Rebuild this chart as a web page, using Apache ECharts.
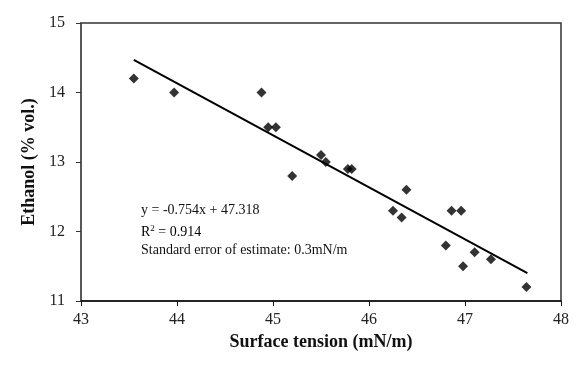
<!DOCTYPE html>
<html><head><meta charset="utf-8">
<script src="https://cdn.jsdelivr.net/npm/echarts@6/dist/echarts.min.js"></script>
<style>html,body{margin:0;padding:0;background:#fff}#c{width:579px;height:365px}</style>
</head><body><div id="c"></div>
<script>
var surfaceTension = [43.55, 43.97, 44.88, 44.95, 45.03, 45.2, 45.5, 45.55, 45.78, 45.82, 46.25, 46.34, 46.39, 46.8, 46.86, 46.96, 46.98, 47.1, 47.27, 47.64];
var ethanol = [14.2, 14.0, 14.0, 13.5, 13.5, 12.8, 13.1, 13.0, 12.9, 12.9, 12.3, 12.2, 12.6, 11.8, 12.3, 12.3, 11.5, 11.7, 11.6, 11.2];
var fitX = [43.55, 47.65];
var fitY = [14.47, 11.40];
var xTicks = [43, 44, 45, 46, 47, 48];
var yTicks = [11, 12, 13, 14, 15];
var annotation = ['y = -0.754x + 47.318', 'R', '2', ' = 0.914', 'Standard error of estimate: 0.3mN/m'];

var chart = echarts.init(document.getElementById('c'));
var font = '"Liberation Serif", "Times New Roman", serif';
chart.setOption({
  animation: false,
  grid: {left: 81, right: 18, top: 23, bottom: 64, show: true, borderColor: '#333', borderWidth: 1.5},
  xAxis: {
    type: 'value', min: xTicks[0], max: xTicks[xTicks.length-1], interval: 1,
    name: 'Surface tension (mN/m)', nameLocation: 'middle', nameGap: 32,
    nameTextStyle: {fontFamily: font, fontSize: 18, fontWeight: 'bold', color: '#111'},
    axisLine: {lineStyle: {color: '#111', width: 1.5}},
    axisTick: {inside: false, length: 5, lineStyle: {color: '#111'}},
    axisLabel: {fontFamily: font, fontSize: 16, color: '#222', margin: 11},
    splitLine: {show: false}
  },
  yAxis: {
    type: 'value', min: yTicks[0], max: yTicks[yTicks.length-1], interval: 1,
    name: 'Ethanol (% vol.)', nameLocation: 'middle', nameGap: 39,
    nameTextStyle: {fontFamily: font, fontSize: 18, fontWeight: 'bold', color: '#111'},
    axisLine: {lineStyle: {color: '#555', width: 1.5}},
    axisTick: {inside: false, length: 5, lineStyle: {color: '#333'}},
    axisLabel: {fontFamily: font, fontSize: 16, color: '#222', margin: 16},
    splitLine: {show: false}
  },
  series: [
    {type: 'scatter', symbol: 'diamond', symbolSize: 10, itemStyle: {color: '#000'},
     data: surfaceTension.map(function(x, i){return [x, ethanol[i]];})},
    {type: 'line', symbol: 'none', lineStyle: {color: '#000', width: 2},
     data: fitX.map(function(x, i){return [x, fitY[i]];})}
  ],
  graphic: [
    {type: 'text', left: 141, top: 203, style: {text: annotation[0], font: '14px ' + font, fill: '#111'}},
    {type: 'text', left: 141, top: 224, style: {
      text: '{a|' + annotation[1] + '}{s|' + annotation[2] + '}{a|' + annotation[3] + '}',
      rich: {a: {fontFamily: font, fontSize: 14, color: '#111'},
             s: {fontFamily: font, fontSize: 9, color: '#111', verticalAlign: 'top', padding: [0,0,8,0]}}}},
    {type: 'text', left: 141, top: 243, style: {text: annotation[4], font: '14px ' + font, fill: '#111'}}
  ]
});
</script></body></html>
